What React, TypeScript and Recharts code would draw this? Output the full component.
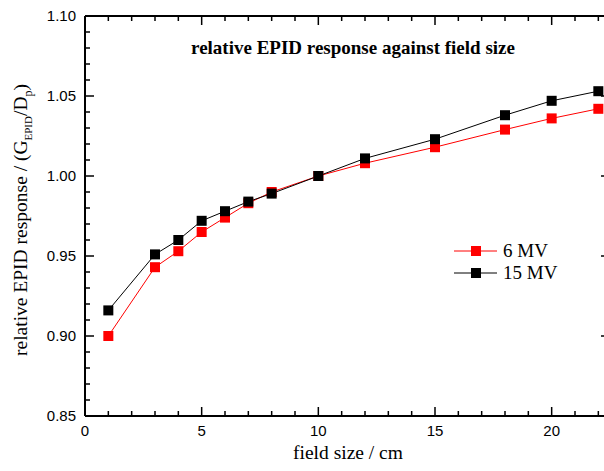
import React from 'react';
import { LineChart, Line, XAxis, YAxis, ReferenceLine } from 'recharts';

const fieldSizes = [1, 3, 4, 5, 6, 7, 8, 10, 12, 15, 18, 20, 22];
const response6MV = [0.9, 0.943, 0.953, 0.965, 0.974, 0.983, 0.99, 1.0, 1.008, 1.018, 1.029, 1.036, 1.042];
const response15MV = [0.916, 0.951, 0.96, 0.972, 0.978, 0.984, 0.989, 1.0, 1.011, 1.023, 1.038, 1.047, 1.053];

const xTicks = [0, 1, 2, 3, 4, 5, 6, 7, 8, 9, 10, 11, 12, 13, 14, 15, 16, 17, 18, 19, 20, 21, 22];
const xLabels = [0, 5, 10, 15, 20];
const yTicks = [
  0.85, 0.86, 0.87, 0.88, 0.89, 0.9, 0.91, 0.92, 0.93, 0.94, 0.95, 0.96, 0.97,
  0.98, 0.99, 1.0, 1.01, 1.02, 1.03, 1.04, 1.05, 1.06, 1.07, 1.08, 1.09, 1.1,
];
const yLabels = [0.85, 0.9, 0.95, 1.0, 1.05, 1.1];

const X_DOMAIN: [number, number] = [0, 22.5];
const Y_DOMAIN: [number, number] = [0.85, 1.1];

const data = fieldSizes.map((x, i) => ({ x, mv6: response6MV[i], mv15: response15MV[i] }));

const SANS = '"Liberation Sans", Arial, Helvetica, sans-serif';
const SERIF = '"Liberation Serif", "Times New Roman", serif';

// plot area is 525 x 400 px
const PX_X = 525 / (X_DOMAIN[1] - X_DOMAIN[0]);
const PX_Y = 400 / (Y_DOMAIN[1] - Y_DOMAIN[0]);
const MAJOR = 9;
const MINOR = 5;
const TICK_W = 1.5;

const isMajorY = (v: number) => yLabels.some((l) => Math.abs(l - v) < 1e-6);

const BottomTick = (props: any) => {
  const { x, y, payload } = props;
  const major = xLabels.includes(payload.value);
  return (
    <g>
      <line x1={x} x2={x} y1={y} y2={y - (major ? MAJOR : MINOR)} stroke="#000" strokeWidth={TICK_W} />
      {major && (
        <text x={x} y={y + 20} textAnchor="middle" fontFamily={SANS} fontSize={15} fill="#000">
          {payload.value}
        </text>
      )}
    </g>
  );
};

const LeftTick = (props: any) => {
  const { x, y, payload } = props;
  const major = isMajorY(payload.value);
  return (
    <g>
      <line x1={x} x2={x + (major ? MAJOR : MINOR)} y1={y} y2={y} stroke="#000" strokeWidth={TICK_W} />
      {major && (
        <text x={x - 9} y={y + 5} textAnchor="end" fontFamily={SANS} fontSize={15} fill="#000">
          {payload.value.toFixed(2)}
        </text>
      )}
    </g>
  );
};

const Square = (color: string) => (props: any) => {
  const { cx, cy, index } = props;
  if (cx == null || cy == null) return <g key={index} />;
  return <rect key={index} x={cx - 5} y={cy - 5} width={10} height={10} fill={color} />;
};

const YTitle = () => (
  <text transform="translate(27,220) rotate(-90)" textAnchor="middle" fontFamily={SERIF} fontSize={19.5} fill="#000">
    relative EPID response / (G
    <tspan fontSize={11} dy={5}>EPID</tspan>
    <tspan dy={-5}>/D</tspan>
    <tspan fontSize={12} dy={5}>p</tspan>
    <tspan dy={-5}>)</tspan>
  </text>
);

const XTitle = () => (
  <text x={348} y={459} textAnchor="middle" fontFamily={SERIF} fontSize={19.5} fill="#000">
    field size / cm
  </text>
);

export default function App() {
  // top and right frame ticks
  const frameTicks: React.ReactNode[] = [];
  xTicks.forEach((v) => {
    const len = (xLabels.includes(v) ? MAJOR : MINOR) / PX_Y;
    frameTicks.push(
      <ReferenceLine
        key={'xt' + v}
        segment={[{ x: v, y: Y_DOMAIN[1] }, { x: v, y: Y_DOMAIN[1] - len }]}
        stroke="#000"
        strokeWidth={TICK_W}
        ifOverflow="visible"
      />
    );
  });
  yTicks.forEach((v) => {
    const len = (isMajorY(v) ? MAJOR : MINOR) / PX_X;
    frameTicks.push(
      <ReferenceLine
        key={'yr' + v}
        segment={[{ x: X_DOMAIN[1], y: v }, { x: X_DOMAIN[1] - len, y: v }]}
        stroke="#000"
        strokeWidth={TICK_W}
        ifOverflow="visible"
      />
    );
  });

  return (
    <div style={{ position: 'absolute', left: 0, top: 0, width: 604, height: 471, overflow: 'hidden', background: '#fff' }}>
      <LineChart width={615} height={471} data={data} margin={{ top: 16, right: 5, left: 0, bottom: 0 }}>
        <XAxis
          dataKey="x"
          type="number"
          domain={X_DOMAIN}
          ticks={xTicks}
          interval={0}
          tickSize={0}
          tickMargin={0}
          tickLine={false}
          tick={<BottomTick />}
          axisLine={{ stroke: '#000', strokeWidth: 2 }}
          height={55}
          label={<XTitle />}
        />
        <YAxis
          type="number"
          domain={Y_DOMAIN}
          ticks={yTicks}
          interval={0}
          tickSize={0}
          tickMargin={0}
          tickLine={false}
          tick={<LeftTick />}
          axisLine={{ stroke: '#000', strokeWidth: 2 }}
          width={85}
          label={<YTitle />}
        />
        <ReferenceLine y={Y_DOMAIN[1]} stroke="#000" strokeWidth={2} ifOverflow="visible" />
        {frameTicks}
        <Line
          dataKey="mv6"
          name="6 MV"
          stroke="#ff0000"
          strokeWidth={1}
          dot={Square('#ff0000')}
          activeDot={false}
          isAnimationActive={false}
        />
        <Line
          dataKey="mv15"
          name="15 MV"
          stroke="#000"
          strokeWidth={1}
          dot={Square('#000')}
          activeDot={false}
          isAnimationActive={false}
        />
      </LineChart>
      <svg width={604} height={471} style={{ position: 'absolute', left: 0, top: 0, pointerEvents: 'none' }}>
        <text x={353} y={54} textAnchor="middle" fontFamily={SERIF} fontSize={19} fontWeight="bold" fill="#000">
          relative EPID response against field size
        </text>
        <g transform="translate(450,240)">
          <line x1={4} x2={47} y1={11} y2={11} stroke="#ff0000" strokeWidth={1} />
          <rect x={21} y={6} width={10} height={10} fill="#ff0000" />
          <text x={53} y={17} fontFamily={SERIF} fontSize={19} fill="#000">6 MV</text>
          <line x1={4} x2={47} y1={33} y2={33} stroke="#000" strokeWidth={1} />
          <rect x={21} y={28} width={10} height={10} fill="#000" />
          <text x={53} y={39} fontFamily={SERIF} fontSize={19} fill="#000">15 MV</text>
        </g>
      </svg>
    </div>
  );
}
